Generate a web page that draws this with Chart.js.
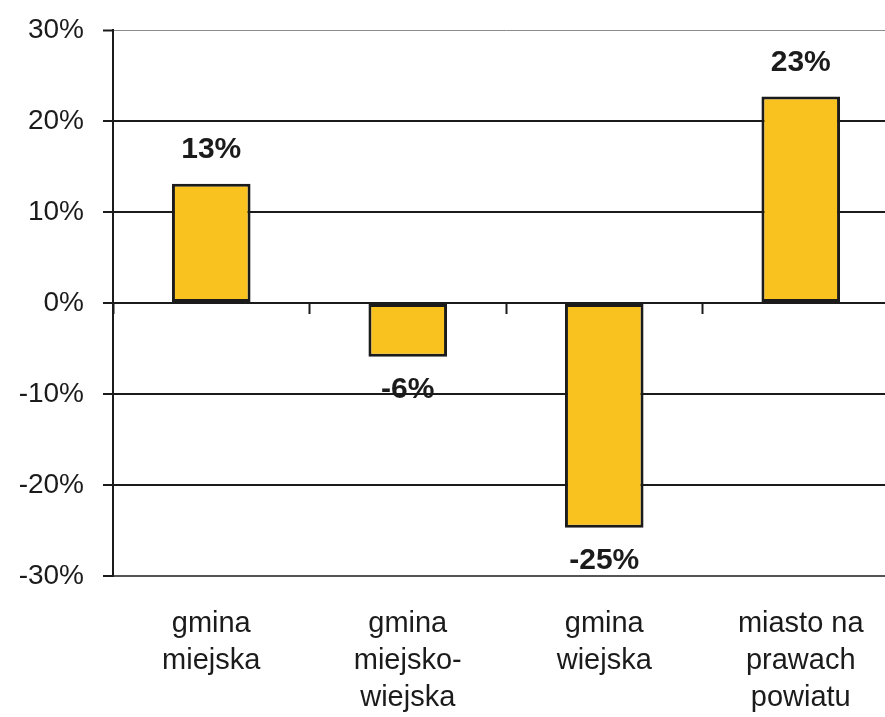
<!DOCTYPE html>
<html>
<head>
<meta charset="utf-8">
<script src="https://cdn.jsdelivr.net/npm/chart.js@4.4.1/dist/chart.umd.min.js"></script>
<style>
    html, body { margin: 0; padding: 0; background: #fff; overflow: hidden; }
    #wrap { width: 905px; height: 717px; }
</style>
</head>
<body>
<div id="wrap"><canvas id="zmianaChart"></canvas></div>
<script>
/* ===== dane ===== */
const categories = [
    ["gmina", "miejska"],
    ["gmina", "miejsko-", "wiejska"],
    ["gmina", "wiejska"],
    ["miasto na", "prawach", "powiatu"]
];
const values = [13.1, -5.9, -24.7, 22.7];
const yTicks = [-30, -20, -10, 0, 10, 20, 30];

const FONT = "'Liberation Sans', Arial, sans-serif";
const INK = "#1b1b1b";

/* ===== etykiety nad / pod słupkami ===== */
const barLabels = {
    id: "barLabels",
    afterDatasetsDraw(chart){
        const c = chart.ctx;
        const meta = chart.getDatasetMeta(0);
        c.save();
        c.font = `bold 30px ${FONT}`;
        c.fillStyle = INK;
        c.textAlign = "center";
        c.textBaseline = "middle";
        meta.data.forEach((bar, i) => {
            const v = values[i];
            const y = v >= 0 ? bar.y - 34 : bar.y + 33;
            c.fillText(Math.round(v) + "%", bar.x, y);
        });
        c.restore();
    }
};

new Chart(document.getElementById("zmianaChart"), {
    type: "bar",
    data: {
        labels: categories,
        datasets: [{
            data: values,
            backgroundColor: "#F9C21F",
            borderColor: INK,
            borderWidth: 3,
            borderSkipped: false,
            barPercentage: 0.4,
            categoryPercentage: 1
        }]
    },
    options: {
        responsive: true,
        maintainAspectRatio: false,
        animation: false,
        layout: { padding: { left: 17, top: 30, right: 6, bottom: 0 } },
        plugins: {
            legend: { display: false },
            tooltip: { enabled: false }
        },
        scales: {
            x: {
                position: "bottom",
                grid: { display: false, drawTicks: false },
                border: { display: false },
                ticks: {
                    color: INK,
                    padding: 30,
                    maxRotation: 0,
                    font: { family: FONT, size: 29, lineHeight: 1.27 }
                },
                afterFit: s => { s.height = 141; }
            },
            x2: {
                type: "category",
                labels: categories,
                position: { y: 0 },
                offset: true,
                grid: {
                    drawOnChartArea: false,
                    offset: true,
                    tickLength: 10,
                    tickColor: INK,
                    tickWidth: 2
                },
                border: { display: true, color: INK, width: 2 },
                ticks: { display: false }
            },
            y: {
                min: -30,
                max: 30,
                afterBuildTicks: s => { s.ticks = yTicks.map(v => ({ value: v })); },
                afterFit: s => { s.width = 96; s.paddingTop = 0; s.paddingBottom = 0; },
                grid: {
                    color: ctx => ctx.tick && ctx.tick.value === 30 ? "#8a8a8a" : (ctx.tick && ctx.tick.value === -30 ? "#555" : INK),
                    lineWidth: ctx => ctx.tick && ctx.tick.value === 30 ? 1 : 2,
                    tickLength: 10,
                    tickColor: INK,
                    tickWidth: 2
                },
                border: { display: true, color: INK, width: 2 },
                ticks: {
                    color: INK,
                    padding: 19,
                    font: { family: FONT, size: 28 },
                    callback: v => v + "%"
                }
            }
        }
    },
    plugins: [barLabels]
});
</script>
</body>
</html>
